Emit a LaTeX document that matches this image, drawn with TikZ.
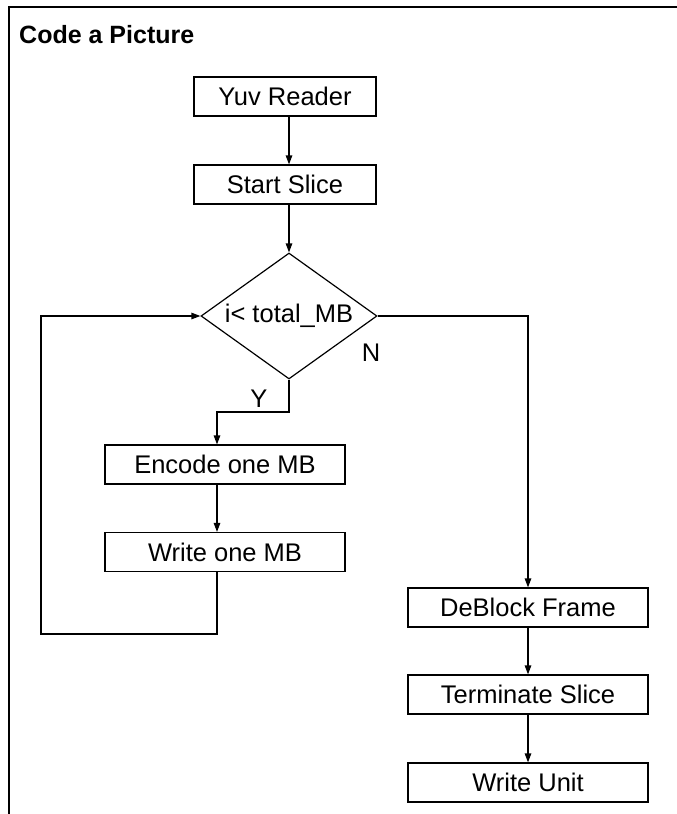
\documentclass[tikz,border=0pt]{standalone}
\usepackage{fontspec}
\setmainfont{Liberation Sans}
\usetikzlibrary{arrows.meta,shapes.geometric}
\begin{document}
\begin{tikzpicture}[x=1pt,y=-1pt,
  box/.style={draw, line width=1.2pt, inner sep=0pt, minimum height=39pt,
    font=\fontsize{25.5}{30}\selectfont},
  decision/.style={draw, diamond, aspect=1.4, line width=1.2pt, inner sep=0pt,
    minimum width=176pt, minimum height=126pt, font=\fontsize{25.5}{30}\selectfont},
  lbl/.style={inner sep=0pt, font=\fontsize{25.5}{30}\selectfont},
  flow/.style={line width=1.2pt, -{Triangle[length=9pt,width=6.5pt]}},
  wire/.style={line width=1.2pt}]
\useasboundingbox (0,0) rectangle (677,814);

% outer frame (top and left edges)
\draw[line width=1.6pt] (677,7) -- (9,7) -- (9,814);
\node[anchor=base west, inner sep=0pt, font=\bfseries\fontsize{25}{30}\selectfont]
  (title) at (19,43) {Code a Picture};

% main column
\node[box, minimum width=182pt] (yuv)   at (285,96.5)  {Yuv Reader};
\node[box, minimum width=182pt] (start) at (285,184.5) {Start Slice};
\node[decision] (cond) at (289,316) {i< total\_MB};

% loop body
\node[box, minimum width=240pt] (enc) at (225,464.5) {Encode one MB};
\node[box, minimum width=240pt] (wr)  at (225,552)   {Write one MB};

% finishing column
\node[box, minimum width=240pt] (db)   at (528,607.5) {DeBlock Frame};
\node[box, minimum width=240pt] (term) at (528,694.5) {Terminate Slice};
\node[box, minimum width=240pt] (unit) at (528,782.5) {Write Unit};

% branch labels
\node[lbl] (nlab) at (371,353) {N};
\node[lbl] (ylab) at (259,399) {Y};

% helper points for the elbows
\coordinate (ybend) at (289,412);
\coordinate (loopB) at (217,634);
\coordinate (loopL) at (41,634);
\coordinate (loopT) at (41,316);

% connectors
\draw[flow] ([xshift=4pt]yuv.south) -- ([xshift=4pt]start.north);
\draw[flow] ([xshift=4pt]start.south) -- (cond.north);
\draw[flow] (cond.south) -- (ybend) -| ([xshift=-8pt]enc.north);
\draw[flow] ([xshift=-8pt]enc.south) -- ([xshift=-8pt]wr.north);
\draw[flow] ([xshift=-8pt]wr.south) -- (loopB) -- (loopL) -- (loopT) -- (cond.west);
\draw[flow] (cond.east) -| (db.north);
\draw[flow] (db.south) -- (term.north);
\draw[flow] (term.south) -- (unit.north);
\end{tikzpicture}
\end{document}
